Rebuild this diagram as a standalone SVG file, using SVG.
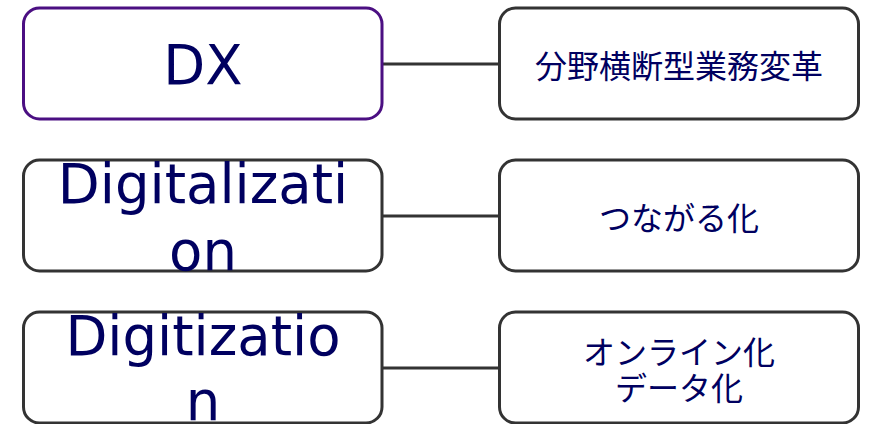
<svg xmlns="http://www.w3.org/2000/svg" width="872" height="424" viewBox="0 0 872 424">
<style>
.box{fill:#fff;stroke:#333;stroke-width:3}
.dx{stroke:#4b0f82}
.en{font-family:"DejaVu Sans",sans-serif;font-size:54.5px;fill:#000060;text-anchor:middle}
.jp{font-family:"Noto Sans CJK JP","Noto Sans",sans-serif;font-size:32px;fill:#000060;text-anchor:middle;dominant-baseline:central}
.conn{stroke:#333;stroke-width:3;fill:none}
</style>
<rect width="872" height="424" fill="#fff"/>
<g id="connectors">
<line class="conn" x1="382" y1="64" x2="499" y2="64"/>
<line class="conn" x1="382" y1="216" x2="499" y2="216"/>
<line class="conn" x1="382" y1="368" x2="499" y2="368"/>
</g>
<g id="dx">
<rect class="box dx" x="23.5" y="8" width="358.5" height="111" rx="16"/>
<text class="en" x="203" y="84">DX</text>
</g>
<g id="digitalization">
<rect class="box" x="23.5" y="160" width="358.5" height="111" rx="16"/>
<text class="en" x="203" y="203">Digitalizati</text>
<text class="en" x="203" y="270">on</text>
</g>
<g id="digitization">
<rect class="box" x="23.5" y="312" width="358.5" height="111" rx="16"/>
<text class="en" x="203" y="355">Digitizatio</text>
<text class="en" x="203" y="420">n</text>
</g>
<g id="bunya">
<rect class="box" x="499.5" y="8" width="359" height="111" rx="16"/>
<text class="jp" x="679" y="64">分野横断型業務変革</text>
</g>
<g id="tsunagaru">
<rect class="box" x="499.5" y="160" width="359" height="111" rx="16"/>
<text class="jp" x="679" y="216">つながる化</text>
</g>
<g id="online">
<rect class="box" x="499.5" y="312" width="359" height="111" rx="16"/>
<text class="jp" x="679" y="350">オンライン化</text>
<text class="jp" x="679" y="386">データ化</text>
</g>
</svg>
